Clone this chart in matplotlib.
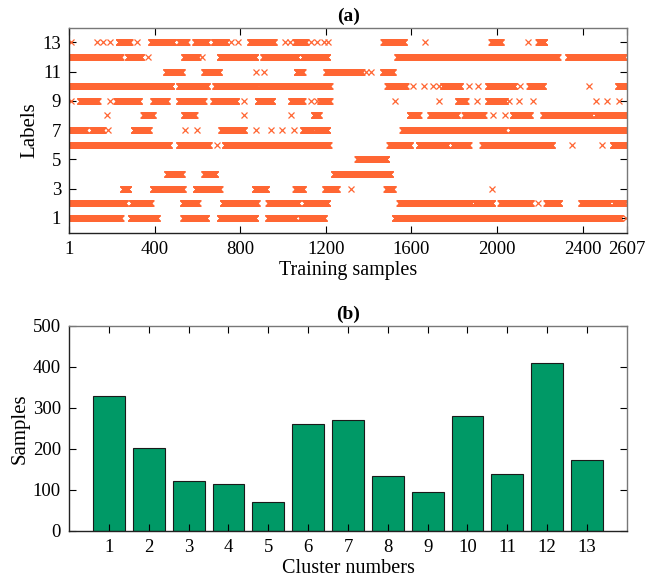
import matplotlib
matplotlib.use("Agg")
import matplotlib.pyplot as plt
import numpy as np

# (a) label of each training sample, read as runs (start, end) per label;
# a single isolated sample is written (x, x)
runs_13 = [(11, 11), (131, 131), (159, 159), (189, 189), (231, 283), (315, 315),
           (383, 487), (515, 549), (589, 645), (677, 733), (757, 757), (789, 789),
           (845, 957), (1009, 1009), (1033, 1033), (1057, 1105), (1129, 1129),
           (1159, 1159), (1189, 1189), (1211, 1211), (1469, 1565), (1663, 1663),
           (1973, 2017), (2145, 2145), (2193, 2221)]
runs_12 = [(1, 241), (273, 337), (369, 369), (537, 601), (621, 621), (703, 871),
           (907, 1067), (1091, 1207), (1533, 2283), (2331, 2593)]
runs_11 = [(453, 527), (631, 701), (873, 873), (913, 913), (1063, 1091),
           (1201, 1367), (1387, 1387), (1413, 1413), (1467, 1513)]
runs_10 = [(1, 420), (428, 478), (513, 645), (683, 877), (893, 1051), (1061, 1217),
           (1487, 1573), (1609, 1609), (1657, 1657), (1701, 1701), (1727, 1727),
           (1747, 1827), (1869, 1869), (1913, 1913), (1957, 2080), (2105, 2105),
           (2151, 2215), (2431, 2431), (2565, 2600)]
runs_9 = [(11, 11), (51, 133), (191, 191), (221, 327), (393, 457), (513, 629),
          (673, 781), (817, 817), (881, 949), (1037, 1091), (1129, 1129), (1157, 1157),
          (1173, 1217), (1521, 1521), (1727, 1727), (1817, 1853), (1907, 1907),
          (1957, 2037), (2057, 2057), (2103, 2103), (2167, 2167), (2463, 2463),
          (2513, 2513), (2571, 2571)]
runs_8 = [(177, 177), (347, 391), (537, 587), (815, 815), (1039, 1039), (1143, 1167),
          (1591, 1633), (1687, 1813), (1847, 1937), (1983, 1983), (2037, 2037),
          (2073, 2153), (2215, 2440), (2460, 2607)]
runs_7 = [(1, 77), (107, 157), (183, 183), (301, 373), (543, 543), (597, 597),
          (711, 817), (873, 873), (945, 945), (997, 997), (1053, 1053), (1093, 1137),
          (1151, 1207), (1557, 2035), (2065, 2607)]
runs_6 = [(1, 467), (513, 653), (693, 693), (727, 1077), (1087, 1213), (1497, 1593),
          (1633, 1767), (1793, 1867), (1931, 2257), (2350, 2350), (2492, 2492),
          (2540, 2600)]
runs_5 = [(1347, 1483)]
runs_4 = [(457, 527), (631, 683), (1237, 1501)]
runs_3 = [(251, 277), (391, 531), (591, 703), (867, 921), (1057, 1093), (1197, 1251),
          (1317, 1317), (1483, 1513), (1977, 1977)]
runs_2 = [(1, 261), (293, 381), (531, 601), (717, 877), (931, 1071), (1101, 1207),
          (1543, 1877), (1895, 1977), (2015, 2158), (2191, 2191), (2230, 2290),
          (2393, 2525), (2545, 2596)]
runs_1 = [(1, 241), (287, 411), (533, 641), (703, 871), (929, 1057), (1081, 1191),
          (1521, 2575), (2603, 2603)]

label_runs = [runs_1, runs_2, runs_3, runs_4, runs_5, runs_6, runs_7,
              runs_8, runs_9, runs_10, runs_11, runs_12, runs_13]
x_ticks = [1, 400, 800, 1200, 1600, 2000, 2400, 2607]
n_samples = 2607

# (b) samples per cluster
clusters = list(range(1, 14))
counts = [330, 203, 122, 115, 70, 260, 270, 133, 95, 281, 140, 410, 173]

plt.rcParams["font.family"] = ["Liberation Serif", "DejaVu Serif"]
plt.rcParams["mathtext.fontset"] = "stix"

fig = plt.figure(figsize=(6.69, 5.86), dpi=100)
ax1 = fig.add_axes([0.1036, 0.6032, 0.8336, 0.3495])
ax2 = fig.add_axes([0.1034, 0.0939, 0.8335, 0.3498])

xs, ys = [], []
for lab, runs in enumerate(label_runs, start=1):
    for a, b in runs:
        idx = np.arange(a, b + 1)
        xs.append(idx)
        ys.append(np.full(len(idx), lab))
xs = np.concatenate(xs)
ys = np.concatenate(ys)
ax1.plot(xs, ys, linestyle="none", marker="x", markersize=4.4,
         markeredgewidth=0.9, color="#FF6633")

ax1.set_xlim(1, n_samples)
ax1.set_ylim(0, 14)
ax1.set_xticks(x_ticks)
ax1.set_yticks(range(1, 14, 2))
ax1.set_xlabel("Training samples", fontsize=14.5, labelpad=2)
ax1.set_ylabel("Labels", fontsize=15, labelpad=2)
ax1.set_title("(a)", fontsize=14, fontweight="bold", pad=5)

ax2.bar(clusters, counts, width=0.8, color="#009966", edgecolor="#1a1a1a",
        linewidth=0.8)
ax2.set_xlim(0, 14)
ax2.set_ylim(0, 500)
ax2.set_xticks(clusters)
ax2.set_yticks(range(0, 501, 100))
ax2.set_xlabel("Cluster numbers", fontsize=14.5, labelpad=2)
ax2.set_ylabel("Samples", fontsize=15, labelpad=2)
ax2.set_title("(b)", fontsize=14, fontweight="bold", pad=5)

for ax in (ax1, ax2):
    ax.tick_params(direction="in", top=True, right=True, length=5, width=0.8,
                   labelsize=13.5, pad=6)
    ax.spines["left"].set_color("#222222")
    ax.spines["bottom"].set_color("#222222")
    ax.spines["top"].set_color("#777777")
    ax.spines["right"].set_color("#777777")
    for s in ax.spines.values():
        s.set_linewidth(1.0)

fig.savefig("out.png", dpi=100)
